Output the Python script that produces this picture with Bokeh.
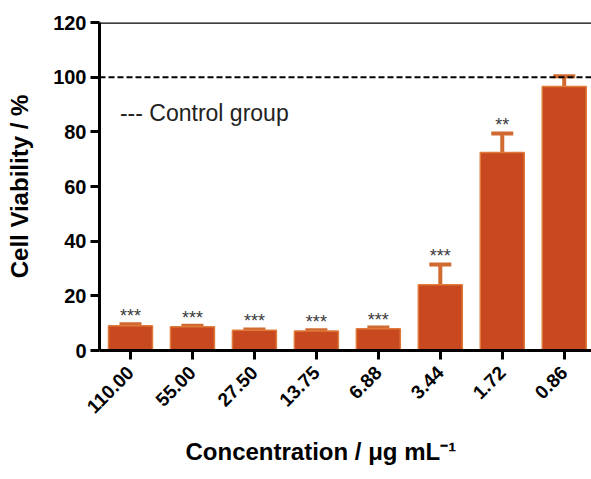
from bokeh.plotting import figure
from bokeh.models import (Range1d, FixedTicker, Span, Label, Whisker, TeeHead,
                          ColumnDataSource, Title)
from bokeh.core.properties import value
from bokeh.embed import file_html
from bokeh.resources import INLINE
import math

concentrations = ["110.00", "55.00", "27.50", "13.75", "6.88", "3.44", "1.72", "0.86"]
viability = [9.1, 8.7, 7.4, 7.1, 8.0, 24.1, 72.4, 96.6]
error_sd = [0.5, 0.4, 0.3, 0.3, 0.4, 7.4, 7.0, 3.7]
significance = ["***", "***", "***", "***", "***", "***", "**", ""]
control_level = 100
y_ticks = [0, 20, 40, 60, 80, 100, 120]

xpos = [i + 0.5 for i in range(len(concentrations))]
upper = [v + e for v, e in zip(viability, error_sd)]

src = ColumnDataSource(dict(x=xpos, top=viability, upper=upper, sig=significance))

FONT = "Liberation Sans"
BAR_FILL = "#C8491F"
BAR_EDGE = "#E07A3A"
ERR_COL = "#D06A30"

p = figure(width=591, height=479, output_backend="svg", toolbar_location=None,
           x_range=Range1d(0, 7.94), y_range=Range1d(0, 120),
           min_border_left=99, min_border_right=0, min_border_top=22,
           min_border_bottom=129)
p.outline_line_color = None
p.xgrid.visible = False
p.ygrid.visible = False
p.background_fill_color = "white"

p.vbar(x="x", top="top", width=0.71, bottom=0, source=src,
       fill_color=BAR_FILL, line_color=BAR_EDGE, line_width=1.5)

wh = Whisker(base="x", lower="top", upper="upper", source=src,
             line_color=ERR_COL, line_width=4,
             lower_head=None,
             upper_head=TeeHead(size=22, line_color=ERR_COL, line_width=4))
p.add_layout(wh)

p.text(x="x", y="upper", text="sig", source=src, text_align="center",
       text_baseline="alphabetic", text_font=value(FONT), text_font_size="18px",
       text_color="#3a3a3a", y_offset=-8)

p.add_layout(Span(location=control_level, dimension="width", line_color="black",
                  line_width=2, line_dash="6 3"))
p.add_layout(Span(location=120, dimension="width", line_color="black", line_width=2.5))

p.add_layout(Label(x=0.33, y=87, text="--- Control group", text_font=FONT,
                   text_font_size="23px", text_color="#222222",
                   text_baseline="middle"))

# x axis title (offset left of frame centre as in reference)
xtitle = Title(text="Concentration / μg mL⁻¹", align="left", offset=86,
               text_font=FONT, text_font_size="24px", text_font_style="bold",
               text_color="black", standoff=26)
p.add_layout(xtitle, "below")

# axes
p.xaxis.ticker = FixedTicker(ticks=xpos)
p.xaxis.major_label_overrides = {x: c for x, c in zip(xpos, concentrations)}
p.xaxis.major_label_orientation = math.pi / 4
p.xaxis.minor_tick_line_color = None
p.xaxis.major_tick_in = 0
p.xaxis.major_tick_out = 9
p.xaxis.major_label_standoff = 10

p.yaxis.ticker = FixedTicker(ticks=y_ticks)
p.yaxis.minor_tick_line_color = None
p.yaxis.major_tick_in = 0
p.yaxis.major_tick_out = 9
p.yaxis.major_label_standoff = 4
p.yaxis.axis_label = "Cell Viability / %"
p.yaxis.axis_label_standoff = 17

for ax in (p.xaxis, p.yaxis):
    ax.axis_line_width = 3
    ax.axis_line_color = "black"
    ax.major_tick_line_width = 3
    ax.major_tick_line_color = "black"
    ax.major_label_text_font = FONT
    ax.major_label_text_font_style = "bold"
    ax.major_label_text_color = "black"
    ax.axis_label_text_font = FONT
    ax.axis_label_text_font_style = "bold"
    ax.axis_label_text_font_size = "24px"
    ax.axis_label_text_color = "black"

p.xaxis.major_label_text_font_size = "19px"
p.yaxis.major_label_text_font_size = "20px"

open("out.html", "w").write(file_html(p, INLINE))
